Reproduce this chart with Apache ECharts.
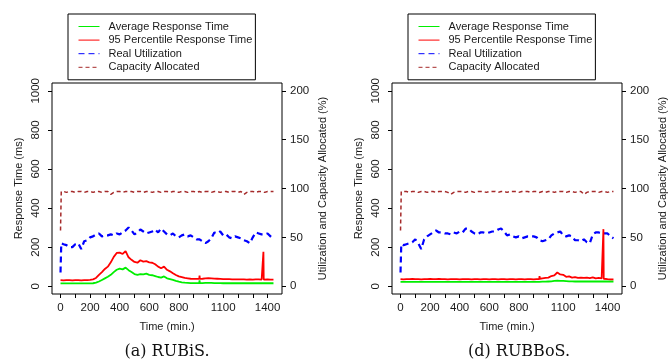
<!DOCTYPE html>
<html>
<head>
<meta charset="utf-8">
<script src="https://cdn.jsdelivr.net/npm/echarts@6/dist/echarts.min.js"></script>
<style>html,body{margin:0;padding:0;background:#fff}#c{width:669px;height:360px}</style>
</head>
<body>
<div id="c"></div>
<script>
// time (minutes)
const timeMin = [0,5,20,40,60,80,100,120,140,160,
  180,200,220,240,260,280,300,320,340,360,
  380,400,420,440,460,480,500,520,540,560,
  580,600,620,640,660,680,700,720,740,760,
  780,800,820,840,860,880,900,920,938,940,
  942,960,980,1000,1020,1040,1060,1080,1100,1120,
  1140,1160,1180,1200,1220,1240,1260,1280,1300,1320,
  1340,1360,1370,1372,1374,1380,1400,1420,1440];

// (a) RUBiS
const avgRT_a = [14,14,14,14,14,14,14,14,14,14,
  14,14,15,18,24,32,40,48,58,72,
  84,90,86,95,82,72,62,58,62,60,
  64,58,56,52,47,44,50,40,36,32,
  27,23,20,18,17,16,16,16,16,30,
  16,16,17,17,17,16,16,16,15,15,
  15,15,15,15,15,15,15,15,15,15,
  15,15,15,15,15,15,15,15,15];
const p95RT_a = [31,31,30,31,31,30,31,31,30,31,
  31,32,35,42,58,72,88,100,122,150,
  170,172,165,180,148,135,124,120,133,126,
  128,122,120,112,100,92,100,84,76,66,
  57,50,46,42,40,38,37,37,37,54,
  37,38,40,41,40,39,38,37,36,36,
  36,35,35,35,35,35,34,35,34,35,
  35,34,34,176,34,34,35,34,34];
const util_a = [14,44,43,42,40,40,43,44,38,46,
  47,50,51,53,54,51,52,52,53,52,
  54,53,55,57,60,57,53,55,58,56,
  54,55,56,58,55,59,56,53,52,54,
  51,50,52,53,51,52,50,48,48,48,
  47,46,44,46,49,55,54,56,52,53,
  50,49,51,50,49,47,46,44,50,55,
  54,53,54,54,54,53,54,51,48];
const cap_a = [57,97,97,96,97,97,96,97,97,96,
  97,97,96,97,97,96,97,97,94,96,
  97,97,96,97,97,97,96,97,97,96,
  97,97,96,97,97,96,97,97,96,97,
  97,96,97,97,96,97,97,96,97,97,
  97,96,97,97,96,97,97,96,97,97,
  96,97,97,96,97,94,96,97,97,96,
  97,97,97,97,97,96,97,97,97];

// (d) RUBBoS
const avgRT_d = [22,22,22,22,22,22,22,22,22,22,
  22,22,22,22,22,22,22,22,22,22,
  22,22,22,22,22,22,22,22,22,22,
  22,22,22,22,22,22,22,22,22,22,
  22,22,22,22,22,22,22,22,22,28,
  22,23,23,24,25,27,28,27,27,26,
  25,25,24,24,24,24,24,24,24,24,
  24,24,24,24,24,24,24,24,24];
const p95RT_d = [36,36,35,36,36,37,36,36,35,36,
  36,37,36,36,37,36,36,35,36,36,
  36,35,36,36,36,35,36,36,35,36,
  36,35,36,36,35,36,36,35,36,36,
  35,36,36,35,36,36,35,36,36,52,
  38,40,42,44,52,55,70,60,58,48,
  50,44,46,42,44,42,44,41,45,40,
  42,40,40,292,38,36,36,35,35];
const util_d = [14,43,42,43,44,45,48,44,38,48,
  51,53,55,57,55,55,54,54,53,55,
  54,56,55,59,59,56,54,53,55,55,
  54,55,56,56,58,59,56,52,53,51,
  50,51,49,50,51,51,51,50,47,47,
  47,46,47,48,52,54,55,56,52,51,
  52,51,47,47,46,48,45,44,53,55,
  55,54,54,54,54,54,54,51,49];
const cap_d = [57,97,97,97,96,97,97,96,97,97,
  96,97,97,96,97,97,97,96,94,96,
  97,97,97,96,97,97,96,97,97,97,
  96,97,97,97,96,97,97,96,97,97,
  97,96,97,97,97,96,97,97,96,97,
  97,97,96,97,97,96,97,97,97,96,
  97,97,96,97,97,94,96,97,97,97,
  96,97,97,97,97,97,96,97,97];

// axis ticks / labels
const xTicks = [0,100,200,300,400,500,600,700,800,900,1000,1100,1200,1300,1400];
const xLabels = [0,200,400,600,800,1100,1400];
const yLeftTicks = [0,200,400,600,800,1000];
const yRightTicks = [0,50,100,150,200];
const seriesNames = ['Average Response Time','95 Percentile Response Time','Real Utilization','Capacity Allocated'];
const captions = ['(a) RUBiS.','(d) RUBBoS.'];

const FONT = 'Liberation Sans, Arial, Helvetica, sans-serif';
const TXT = '#1a1a1a';
const plain = v => String(v);
const panels = [
  {left: 52, avg: avgRT_a, p95: p95RT_a, util: util_a, cap: cap_a, cap_x: 167},
  {left: 392, avg: avgRT_d, p95: p95RT_d, util: util_d, cap: cap_d, cap_x: 519}
];
const pair = arr => timeMin.map((t, i) => [t, arr[i]]);

const grid = [], xAxis = [], yAxis = [], series = [], legend = [], graphic = [];
panels.forEach((p, k) => {
  grid.push({left: p.left, top: 83, width: 230, height: 211, show: true,
    borderColor: '#000', borderWidth: 1, backgroundColor: 'transparent'});
  xAxis.push({type: 'value', gridIndex: k, min: -57.6, max: 1497.6,
    name: 'Time (min.)', nameLocation: 'middle', nameGap: 27,
    nameTextStyle: {fontFamily: FONT, fontSize: 11, color: TXT},
    axisLine: {show: false, onZero: false},
    axisTick: {show: true, inside: false, length: 4, customValues: xTicks, lineStyle: {color: '#000'}},
    axisLabel: {customValues: xLabels, formatter: plain, margin: 8, fontFamily: FONT, fontSize: 11.5, color: TXT},
    splitLine: {show: false}});
  yAxis.push({type: 'value', gridIndex: k, position: 'left', min: -40, max: 1040,
    name: 'Response Time (ms)', nameLocation: 'middle', nameGap: 28, nameRotate: 90,
    nameTextStyle: {fontFamily: FONT, fontSize: 11, color: TXT},
    axisLine: {show: false, onZero: false},
    axisTick: {show: true, length: 4, customValues: yLeftTicks, lineStyle: {color: '#000'}},
    axisLabel: {customValues: yLeftTicks, formatter: plain, rotate: 90, margin: 10, fontFamily: FONT, fontSize: 11.5, color: TXT},
    splitLine: {show: false}});
  yAxis.push({type: 'value', gridIndex: k, position: 'right', min: -8, max: 208,
    name: 'Utilization and Capacity Allocated (%)', nameLocation: 'middle', nameGap: 35, nameRotate: 90,
    nameTextStyle: {fontFamily: FONT, fontSize: 11, color: TXT},
    axisLine: {show: false, onZero: false},
    axisTick: {show: true, length: 4, customValues: yRightTicks, lineStyle: {color: '#000'}},
    axisLabel: {customValues: yRightTicks, formatter: plain, margin: 8, fontFamily: FONT, fontSize: 11.5, color: TXT},
    splitLine: {show: false}});
  const base = {type: 'line', xAxisIndex: k, symbol: 'none', showSymbol: false, animation: false, silent: true};
  series.push(Object.assign({}, base, {name: seriesNames[0], yAxisIndex: 2*k, data: pair(p.avg),
    lineStyle: {color: '#00EE00', width: 1.8}, itemStyle: {color: '#00EE00'}, z: 3}));
  series.push(Object.assign({}, base, {name: seriesNames[1], yAxisIndex: 2*k, data: pair(p.p95),
    lineStyle: {color: '#FF0000', width: 1.8}, itemStyle: {color: '#FF0000'}, z: 4}));
  series.push(Object.assign({}, base, {name: seriesNames[2], yAxisIndex: 2*k+1, data: pair(p.util),
    lineStyle: {color: '#0000FF', width: 2.2, type: [6, 4]}, itemStyle: {color: '#0000FF'}, z: 2}));
  series.push(Object.assign({}, base, {name: seriesNames[3], yAxisIndex: 2*k+1, data: pair(p.cap),
    lineStyle: {color: '#A52A2A', width: 1.5, type: [4, 3]}, itemStyle: {color: '#A52A2A'}, z: 2}));
  legend.push({left: p.left + 16, top: 14, orient: 'vertical', selectedMode: false,
    data: seriesNames, itemWidth: 21, itemHeight: 13, itemGap: 0.6,
    padding: [6, 3, 6, 10], borderColor: '#000', borderWidth: 1, backgroundColor: '#fff',
    lineStyle: {width: 1}, itemStyle: {opacity: 0, borderWidth: 0},
    textStyle: {fontFamily: FONT, fontSize: 11, color: TXT, lineHeight: 13, padding: [0, 0, 0, 4]}});
  graphic.push({type: 'text', x: p.cap_x, y: 352,
    style: {text: captions[k], font: '16px "DejaVu Serif", serif', fill: '#111', textAlign: 'center', textVerticalAlign: 'middle'}});
});

const chart = echarts.init(document.getElementById('c'), null, {renderer: 'canvas'});
chart.setOption({backgroundColor: '#fff', animation: false, grid, xAxis, yAxis, series, legend, graphic});
</script>
</body>
</html>
